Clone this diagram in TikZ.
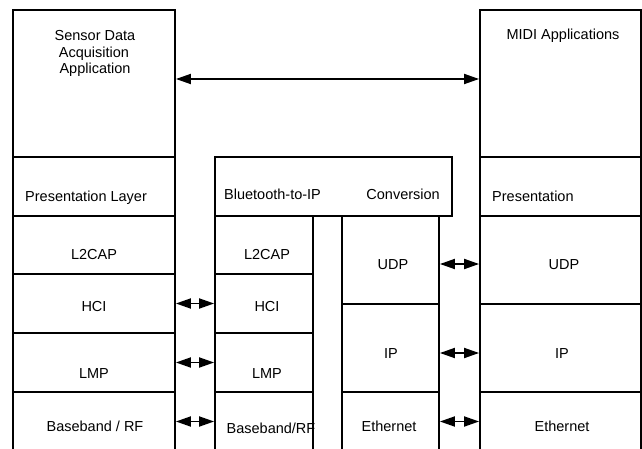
\documentclass[tikz,border=0pt]{standalone}
\usepackage{fontspec}
\setmainfont{Liberation Sans}
\usetikzlibrary{fit,arrows.meta}

\begin{document}
\begin{tikzpicture}[x=1pt,y=-1pt, >={Triangle[length=15pt,width=10pt]},
  layer/.style={draw, line width=1.8pt, inner sep=0pt},
  lbl/.style={anchor=base, inner sep=0pt, font=\fontsize{14.5}{17}\selectfont},
  link/.style={<->, line width=1.8pt}]
\useasboundingbox (0,0) rectangle (642,449);
\clip (0,0) rectangle (642,449);
% left stack
\node (appL) [layer, fit={(13,10) (175,157)}] {};
\node (presL) [layer, fit={(13,157) (175,216)}] {};
\node (l2capL) [layer, fit={(13,216) (175,274)}] {};
\node (hciL) [layer, fit={(13,274) (175,333)}] {};
\node (lmpL) [layer, fit={(13,333) (175,392)}] {};
\node (bbL) [layer, fit={(13,392) (175,451)}] {};
% gateway
\node (conv) [layer, fit={(215,157) (452,216)}] {};
\node (l2capM) [layer, fit={(215,216) (313,274)}] {};
\node (hciM) [layer, fit={(215,274) (313,333)}] {};
\node (lmpM) [layer, fit={(215,333) (313,392)}] {};
\node (bbM) [layer, fit={(215,392) (313,451)}] {};
\node (udpM) [layer, fit={(342,216) (439,304)}] {};
\node (ipM) [layer, fit={(342,304) (439,392)}] {};
\node (ethM) [layer, fit={(342,392) (439,451)}] {};
% right stack
\node (appR) [layer, fit={(480,10) (641,157)}] {};
\node (presR) [layer, fit={(480,157) (641,216)}] {};
\node (udpR) [layer, fit={(480,216) (641,304)}] {};
\node (ipR) [layer, fit={(480,304) (641,392)}] {};
\node (ethR) [layer, fit={(480,392) (641,451)}] {};
% labels
\node (appLt) at (95,40.5) [lbl] {Sensor Data};
\node (appLt2) at (94,57.5) [lbl] {Acquisition};
\node (appLt3) at (95,74) [lbl] {Application};
\node (presLt) at (25,201) [lbl, anchor=base west] {Presentation Layer};
\node (l2capLt) at (94,259) [lbl] {L2CAP};
\node (hciLt) at (94,311) [lbl] {HCI};
\node (lmpLt) at (94,378) [lbl] {LMP};
\node (bbLt) at (95,431) [lbl] {Baseband / RF};
\node (convt) at (224,200) [lbl, anchor=base west] {Bluetooth-to-IP};
\node (convt2) at (440,200) [lbl, anchor=base east] {Conversion};
\node (l2capMt) at (267,259) [lbl] {L2CAP};
\node (hciMt) at (267,311) [lbl] {HCI};
\node (lmpMt) at (267,378) [lbl] {LMP};
\node (bbMt) at (271,433) [lbl] {Baseband/RF};
\node (udpMt) at (393,269) [lbl] {UDP};
\node (ipMt) at (391,358) [lbl] {IP};
\node (ethMt) at (389,431) [lbl] {Ethernet};
\node (appRt) at (563,40) [lbl] {MIDI Applications};
\node (presRt) at (492,201.5) [lbl, anchor=base west] {Presentation};
\node (udpRt) at (564,269) [lbl] {UDP};
\node (ipRt) at (562,358) [lbl] {IP};
\node (ethRt) at (562,431) [lbl] {Ethernet};
% peer links
\draw[link] ([yshift=4.5pt]appL.east) -- ([yshift=4.5pt]appR.west);
\draw[link] (hciL) -- (hciM);
\draw[link] (lmpL) -- (lmpM);
\draw[link] (bbL) -- (bbM);
\draw[link] ([yshift=-4pt]udpM.east) -- ([yshift=-4pt]udpR.west);
\draw[link] ([yshift=-5pt]ipM.east) -- ([yshift=-5pt]ipR.west);
\draw[link] (ethM) -- (ethR);
\end{tikzpicture}
\end{document}
